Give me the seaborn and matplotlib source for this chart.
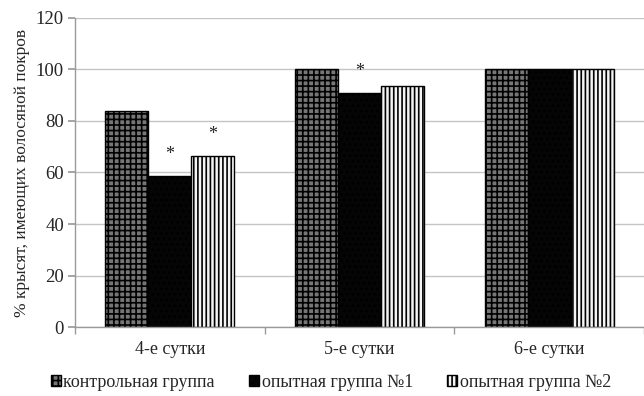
import matplotlib
matplotlib.use("Agg")
import matplotlib.pyplot as plt
import seaborn as sns
import pandas as pd
from matplotlib.patches import Patch

days = ["4-е сутки", "5-е сутки", "6-е сутки"]
groups = ["контрольная группа", "опытная группа №1", "опытная группа №2"]
control = [84, 100, 100]
exp1 = [58.5, 91, 100]
exp2 = [66.5, 93.5, 100]
stars = {("4-е сутки", "опытная группа №1"), ("4-е сутки", "опытная группа №2"),
         ("5-е сутки", "опытная группа №1")}
y_ticks = [0, 20, 40, 60, 80, 100, 120]
y_label = "% крысят, имеющих волосяной покров"

rows = []
for g, vals in zip(groups, [control, exp1, exp2]):
    for d, v in zip(days, vals):
        rows.append({"day": d, "group": g, "value": v})
df = pd.DataFrame(rows)

sns.set_theme(style="white")
plt.rcParams["font.family"] = ["Liberation Serif", "DejaVu Serif"]
plt.rcParams["hatch.linewidth"] = 1.2

fig = plt.figure(figsize=(6.44, 3.96), dpi=100)
ax = fig.add_axes([0.1165, 0.174, 0.8835, 0.781])

sns.barplot(data=df, x="day", y="value", hue="group", order=days, hue_order=groups,
            width=0.68, ax=ax, legend=False, errorbar=None)

styles = [
    dict(face="#767676", hatch="+++", hc="#ababab"),
    dict(face="#050505", hatch="...", hc="#8a8a8a"),
    dict(face="#f4f4f4", hatch="||||", hc="#000000"),
]

def style_patch(p, st):
    p.set_facecolor(st["face"])
    p.set_edgecolor("black")
    p.set_linewidth(1.0)
    p.set_hatch(st["hatch"])
    if hasattr(p, "set_hatchcolor"):
        p.set_hatchcolor(st["hc"])

for cont, st, g in zip(ax.containers, styles, groups):
    for bar, d in zip(cont, days):
        style_patch(bar, st)
        if (d, g) in stars:
            ax.text(bar.get_x() + bar.get_width() / 2, bar.get_height() + 5.0, "*",
                    ha="center", va="bottom", fontsize=13, color="#222222")

ax.set_ylim(0, 120)
ax.set_xlim(-0.5, 2.5)
ax.set_yticks(y_ticks)
ax.yaxis.grid(True, color="#c4c4c4", linewidth=1.0)
ax.set_axisbelow(True)
ax.set_xlabel("")
ax.set_ylabel(y_label, fontsize=12.5, labelpad=4)
ax.tick_params(axis="y", labelsize=13.5, length=5, color="#9a9a9a", left=True, pad=3)
ax.tick_params(axis="x", which="major", labelsize=13, length=0, pad=10)
ax.set_xticks([-0.5, 0.5, 1.5, 2.5], minor=True)
ax.tick_params(axis="x", which="minor", length=5, color="#9a9a9a", bottom=True)
for s in ["top", "right"]:
    ax.spines[s].set_visible(False)
for s in ["left", "bottom"]:
    ax.spines[s].set_color("#9a9a9a")
    ax.spines[s].set_linewidth(1.0)

handles = []
for st, g in zip(styles, groups):
    h = Patch(facecolor=st["face"], edgecolor="black", hatch=st["hatch"], label=g)
    if hasattr(h, "set_hatchcolor"):
        h.set_hatchcolor(st["hc"])
    handles.append(h)
fig.legend(handles=handles, loc="lower center", bbox_to_anchor=(0.514, -0.028), ncol=3,
           frameon=False, fontsize=13, handlelength=0.55, handleheight=0.55,
           handletextpad=0.15, columnspacing=1.9)

fig.savefig("out.png", dpi=100)
